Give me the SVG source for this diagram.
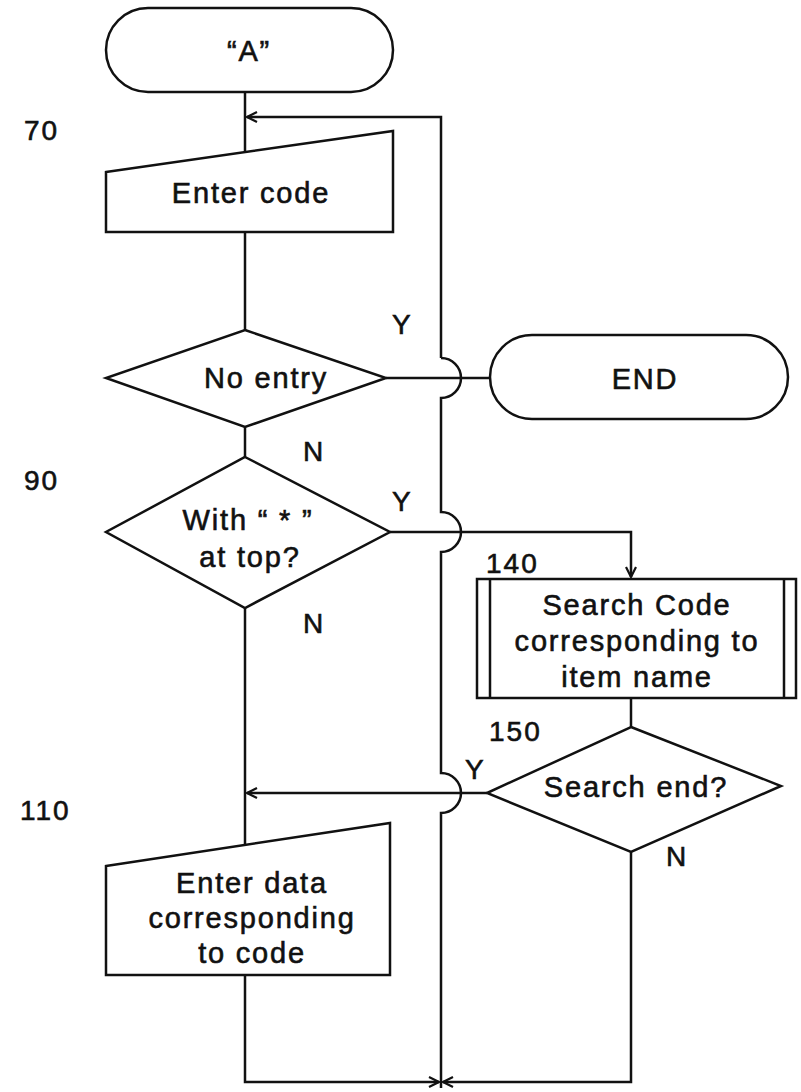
<svg xmlns="http://www.w3.org/2000/svg" width="801" height="1092" viewBox="0 0 801 1092">
<style>
.s{fill:#fff;stroke:#111;stroke-width:2.5}
.c{fill:none;stroke:#111;stroke-width:2.5}
.t{font-family:"Liberation Sans",Arial,sans-serif;font-size:29px;fill:#111;stroke:#111;stroke-width:0.6;text-anchor:middle;letter-spacing:1.8px}
.l{font-family:"Liberation Sans",Arial,sans-serif;font-size:28px;fill:#111;stroke:#111;stroke-width:0.6;letter-spacing:2px}
</style>
<defs>
<marker id="ah" viewBox="0 0 12 12" refX="11" refY="6" markerWidth="12" markerHeight="12" markerUnits="userSpaceOnUse" orient="auto">
<path d="M1 1 L11 6 L1 11" fill="none" stroke="#111" stroke-width="2.2"/>
</marker>
</defs>
<rect width="801" height="1092" fill="#fff"/>
<g id="connectors">
<path class="c" d="M245 92 V151"/>
<path class="c" d="M441 358 V117 H247" marker-end="url(#ah)"/>
<path class="c" d="M441 358 A20 20 0 0 1 441 398 V512 A20 20 0 0 1 441 552 V773 A20 20 0 0 1 441 813 V1088"/>
<path class="c" d="M245 232 V330"/>
<path class="c" d="M386 378 H490"/>
<path class="c" d="M245 427 V457"/>
<path class="c" d="M390 532 H631 V577" marker-end="url(#ah)"/>
<path class="c" d="M631 698 V727"/>
<path class="c" d="M245 608 V845"/>
<path class="c" d="M487 793 H247" marker-end="url(#ah)"/>
<path class="c" d="M245 975 V1082 H439" marker-end="url(#ah)"/>
<path class="c" d="M631 852 V1082 H443" marker-end="url(#ah)"/>
</g>
<g id="start">
<rect class="s" x="106" y="8" width="287" height="84" rx="42"/>
<text class="t" x="249" y="61">“A”</text>
</g>
<g id="n70">
<text class="l" x="24" y="140">70</text>
<path class="s" d="M106 172 L393 131 V232 H106 Z"/>
<text class="t" x="251" y="203">Enter code</text>
</g>
<g id="noentry">
<path class="s" d="M245 330 L386 378 L245 427 L106 378 Z"/>
<text class="t" x="266" y="388">No entry</text>
<text class="l" x="392" y="334">Y</text>
<text class="l" x="303" y="461">N</text>
</g>
<g id="end">
<rect class="s" x="490" y="335" width="298" height="84" rx="42"/>
<text class="t" x="645" y="389">END</text>
</g>
<g id="n90">
<text class="l" x="24" y="490">90</text>
<path class="s" d="M245 457 L390 532 L245 608 L106 532 Z"/>
<text class="t" x="248" y="530">With “ * ”</text>
<text class="t" x="250" y="567">at top?</text>
<text class="l" x="392" y="511">Y</text>
<text class="l" x="303" y="633">N</text>
</g>
<g id="n140">
<text class="l" x="486" y="573">140</text>
<rect class="s" x="477" y="579" width="319" height="119"/>
<path class="c" d="M490 579 V698 M784 579 V698"/>
<text class="t" x="637" y="615">Search Code</text>
<text class="t" x="637" y="651">corresponding to</text>
<text class="t" x="637" y="687">item name</text>
</g>
<g id="n150">
<text class="l" x="489" y="741">150</text>
<path class="s" d="M631 727 L781 786 L631 852 L487 793 Z"/>
<text class="t" x="636" y="797">Search end?</text>
<text class="l" x="465" y="779">Y</text>
<text class="l" x="666" y="866">N</text>
</g>
<g id="n110">
<text class="l" x="20" y="820">110</text>
<path class="s" d="M106 866 L390 823 V975 H106 Z"/>
<text class="t" x="252" y="893">Enter data</text>
<text class="t" x="252" y="928">corresponding</text>
<text class="t" x="252" y="963">to code</text>
</g>
</svg>
